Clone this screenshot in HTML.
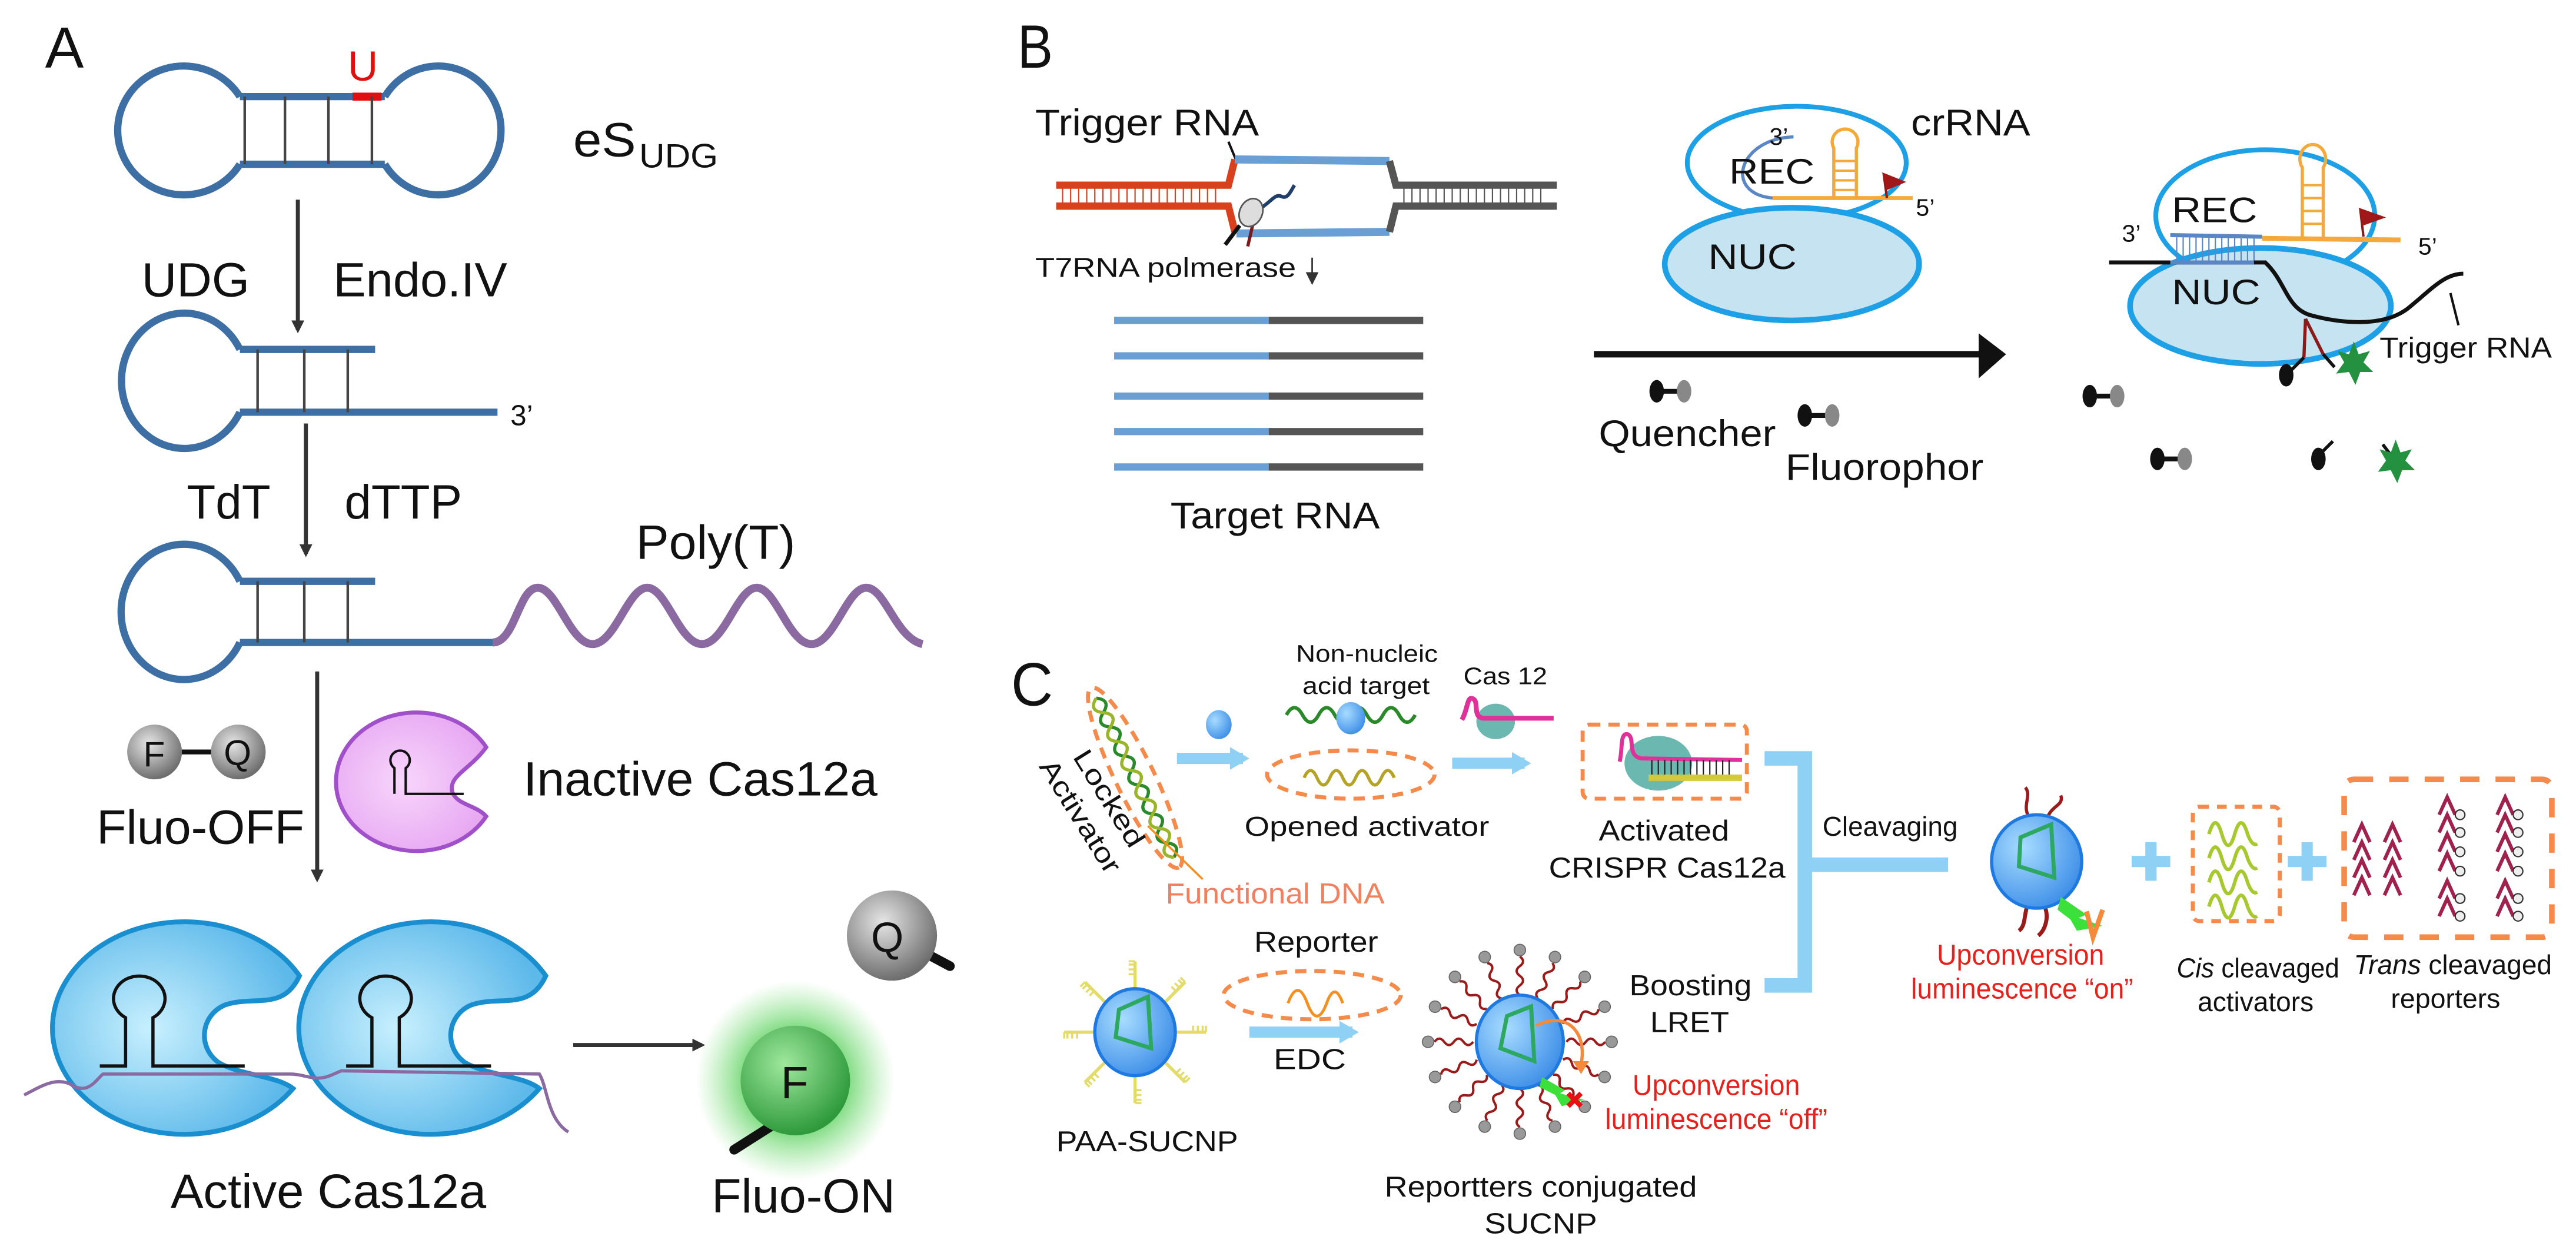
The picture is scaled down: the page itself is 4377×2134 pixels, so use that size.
<!DOCTYPE html>
<html><head><meta charset="utf-8"><style>
html,body{margin:0;padding:0;background:#fff;}
svg{display:block;}
text{font-family:"Liberation Sans",sans-serif;fill:#111;}
</style></head><body>
<svg width="4377" height="2134" viewBox="0 0 1600 780" preserveAspectRatio="none" xmlns="http://www.w3.org/2000/svg">
<defs>
<marker id="ah" markerWidth="8" markerHeight="8" refX="6" refY="4" orient="auto" markerUnits="userSpaceOnUse"><path d="M0,0 L8,4 L0,8 Z" fill="#333"/></marker>
<marker id="ahL" markerWidth="14" markerHeight="14" refX="8" refY="7" orient="auto" markerUnits="userSpaceOnUse"><path d="M0,0 L12,7 L0,14 Z" fill="#8fd0f5"/></marker>
<radialGradient id="gray" cx="40%" cy="35%" r="65%"><stop offset="0" stop-color="#e6e6e6"/><stop offset="1" stop-color="#6e6e6e"/></radialGradient>
<radialGradient id="pink" cx="45%" cy="50%" r="60%"><stop offset="0" stop-color="#f8d6fb"/><stop offset="1" stop-color="#e6a6f2"/></radialGradient>
<radialGradient id="blu" cx="40%" cy="50%" r="60%"><stop offset="0" stop-color="#c8f0fe"/><stop offset="1" stop-color="#5db9ea"/></radialGradient>
<radialGradient id="grn" cx="40%" cy="35%" r="65%"><stop offset="0" stop-color="#9ee89c"/><stop offset="1" stop-color="#2f9a3c"/></radialGradient>
<radialGradient id="glow" cx="50%" cy="50%" r="50%"><stop offset="0.45" stop-color="#4ccc50" stop-opacity="0.85"/><stop offset="1" stop-color="#7be07a" stop-opacity="0"/></radialGradient>
<radialGradient id="sph" cx="35%" cy="35%" r="70%"><stop offset="0" stop-color="#a7dcff"/><stop offset="1" stop-color="#3f8fe8"/></radialGradient>
<g id="qf"><line x1="0" y1="0" x2="16" y2="0" stroke="#111" stroke-width="3"/><ellipse cx="0" cy="0" rx="4.5" ry="7" fill="#111"/><ellipse cx="17" cy="0" rx="4.5" ry="7" fill="#888"/></g>
<g id="rsp"><path d="M29,0 q3,-4 6,0 t6,0 t6,0 t6,0" fill="none" stroke="#9b1b1b" stroke-width="1.5"/><circle cx="57" cy="0" r="3.6" fill="#999" stroke="#666" stroke-width="0.6"/></g>
<g id="ysp"><line x1="26" y1="0" x2="44" y2="0" stroke="#e3dc6a" stroke-width="2"/><path d="M36,0 v-4 M39,0 v-4 M42,0 v-4 M44,0 v-4" stroke="#e3dc6a" stroke-width="1.3"/></g>
<g id="hat"><path d="M-5,6 L0,-5 L5,6" fill="none" stroke="#a0204e" stroke-width="2.2"/></g>
<g id="hatc"><path d="M-5,6 L0,-5 L5,6" fill="none" stroke="#a0204e" stroke-width="2.2"/><circle cx="8" cy="6" r="3" fill="#eee" stroke="#333" stroke-width="0.8"/></g>
</defs>

<!-- ================= PANEL A ================= -->
<text x="28" y="42" font-size="36">A</text>
<!-- dumbbell -->
<g fill="none" stroke="#3d6fa5" stroke-width="4.5">
<path d="M149,60 A41,40 0 1 0 149,102"/>
<path d="M149,60 L239,60 M149,102 L239,102"/>
<path d="M239,60 A39,40 0 1 1 239,102"/>
</g>
<line x1="219" y1="60" x2="237" y2="60" stroke="#e01010" stroke-width="5"/>
<g stroke="#444" stroke-width="1.6"><line x1="152" y1="60" x2="152" y2="102"/><line x1="177" y1="60" x2="177" y2="102"/><line x1="204" y1="60" x2="204" y2="102"/><line x1="231" y1="60" x2="231" y2="102"/></g>
<text x="216" y="50" font-size="26" fill="#e01010" style="fill:#e01010">U</text>
<text x="356" y="97" font-size="30" textLength="39" lengthAdjust="spacingAndGlyphs">eS</text>
<text x="397" y="104" font-size="21" textLength="49" lengthAdjust="spacingAndGlyphs">UDG</text>

<line x1="185" y1="124" x2="185" y2="205" stroke="#333" stroke-width="2.5" marker-end="url(#ah)"/>
<text x="88" y="184" font-size="30" textLength="67" lengthAdjust="spacingAndGlyphs">UDG</text>
<text x="207" y="184" font-size="30" textLength="108" lengthAdjust="spacingAndGlyphs">Endo.IV</text>

<g fill="none" stroke="#3d6fa5" stroke-width="4.5">
<path d="M149,217 A39,42 0 1 0 149,256"/>
<path d="M149,217 L233,217 M149,256 L309,256"/>
</g>
<g stroke="#444" stroke-width="1.6"><line x1="160" y1="217" x2="160" y2="256"/><line x1="189" y1="217" x2="189" y2="256"/><line x1="216" y1="217" x2="216" y2="256"/></g>
<text x="317" y="264" font-size="18">3’</text>

<line x1="190" y1="263" x2="190" y2="344" stroke="#333" stroke-width="2.5" marker-end="url(#ah)"/>
<text x="116" y="322" font-size="30" textLength="52" lengthAdjust="spacingAndGlyphs">TdT</text>
<text x="214" y="322" font-size="30" textLength="73" lengthAdjust="spacingAndGlyphs">dTTP</text>

<g fill="none" stroke="#3d6fa5" stroke-width="4.5">
<path d="M149,361 A39,42 0 1 0 149,399"/>
<path d="M149,361 L233,361 M149,399 L309,399"/>
</g>
<g stroke="#444" stroke-width="1.6"><line x1="160" y1="361" x2="160" y2="399"/><line x1="189" y1="361" x2="189" y2="399"/><line x1="216" y1="361" x2="216" y2="399"/></g>
<path d="M306,399 C320,399 322,365 334,365 C346,365 354,400 368,400 C382,400 390,365 402,365 C414,365 422,400 436,400 C450,400 458,365 470,365 C482,365 490,400 504,400 C518,400 526,365 538,365 C550,365 556,396 573,400" fill="none" stroke="#8a6aa0" stroke-width="5"/>
<text x="395" y="347" font-size="30" textLength="99" lengthAdjust="spacingAndGlyphs">Poly(T)</text>

<line x1="197" y1="417" x2="197" y2="546" stroke="#333" stroke-width="2.5" marker-end="url(#ah)"/>
<line x1="110" y1="467" x2="132" y2="467" stroke="#111" stroke-width="3"/>
<circle cx="96" cy="467" r="17" fill="url(#gray)"/>
<circle cx="148" cy="467" r="17" fill="url(#gray)"/>
<text x="89" y="476" font-size="22">F</text>
<text x="139" y="475" font-size="22">Q</text>
<text x="60" y="524" font-size="30" textLength="129" lengthAdjust="spacingAndGlyphs">Fluo-OFF</text>

<path d="M302,464 A50,43 0 1 0 302,507 C296,500 284,500 281,492 C278,482 292,478 302,464 Z" fill="url(#pink)" stroke="#a050c8" stroke-width="2.5"/>
<path d="M245,493 L245,477 A6,6 0 1 1 252,477 L252,493 L288,493" fill="none" stroke="#111" stroke-width="1.5"/>
<text x="325" y="494" font-size="30" textLength="220" lengthAdjust="spacingAndGlyphs">Inactive Cas12a</text>

<!-- Active Cas12a -->
<g id="cas">
<path d="M186,606 A82,66 0 1 0 182,676 C172,668 150,668 136,660 C122,650 125,630 140,624 C158,618 176,628 186,606 Z" fill="url(#blu)" stroke="#1a8fd0" stroke-width="3"/>
<path d="M62,662 L78,662 L78,632 A16,14 0 1 1 95,632 L95,662 L152,662" fill="none" stroke="#111" stroke-width="2"/>
</g>
<use href="#cas" transform="translate(153,0)"/>
<path d="M15,680 C25,675 35,668 45,674 C55,680 60,670 64,667 L180,667 C190,667 195,672 205,668 L212,665 L335,667 C340,675 340,695 353,703" fill="none" stroke="#8a6aa0" stroke-width="2"/>
<text x="106" y="750" font-size="30" textLength="196" lengthAdjust="spacingAndGlyphs">Active Cas12a</text>

<line x1="356" y1="649" x2="436" y2="649" stroke="#333" stroke-width="2.5" marker-end="url(#ah)"/>
<circle cx="494" cy="671" r="62" fill="url(#glow)"/>
<line x1="478" y1="700" x2="456" y2="714" stroke="#111" stroke-width="6" stroke-linecap="round"/>
<circle cx="494" cy="671" r="34" fill="url(#grn)"/>
<text x="485" y="682" font-size="28">F</text>
<line x1="575" y1="592" x2="590" y2="600" stroke="#111" stroke-width="6" stroke-linecap="round"/>
<circle cx="554" cy="581" r="28" fill="url(#gray)"/>
<text x="541" y="591" font-size="26">Q</text>
<text x="442" y="753" font-size="30" textLength="114" lengthAdjust="spacingAndGlyphs">Fluo-ON</text>

<!-- ================= PANEL B ================= -->
<text x="632" y="42" font-size="38" textLength="22" lengthAdjust="spacingAndGlyphs">B</text>
<text x="643" y="84" font-size="23" textLength="139" lengthAdjust="spacingAndGlyphs">Trigger RNA</text>
<line x1="763" y1="88" x2="768" y2="100" stroke="#111" stroke-width="1.5"/>
<g stroke="#d9401e" stroke-width="0.8">
<line x1="660" y1="115" x2="660" y2="128"/><line x1="665" y1="115" x2="665" y2="128"/><line x1="670" y1="115" x2="670" y2="128"/><line x1="675" y1="115" x2="675" y2="128"/><line x1="680" y1="115" x2="680" y2="128"/><line x1="685" y1="115" x2="685" y2="128"/><line x1="690" y1="115" x2="690" y2="128"/><line x1="695" y1="115" x2="695" y2="128"/><line x1="700" y1="115" x2="700" y2="128"/><line x1="705" y1="115" x2="705" y2="128"/><line x1="710" y1="115" x2="710" y2="128"/><line x1="715" y1="115" x2="715" y2="128"/><line x1="720" y1="115" x2="720" y2="128"/><line x1="725" y1="115" x2="725" y2="128"/><line x1="730" y1="115" x2="730" y2="128"/><line x1="735" y1="115" x2="735" y2="128"/><line x1="740" y1="115" x2="740" y2="128"/><line x1="745" y1="115" x2="745" y2="128"/><line x1="750" y1="115" x2="750" y2="128"/><line x1="755" y1="115" x2="755" y2="128"/>
</g>
<g stroke="#555" stroke-width="0.8">
<line x1="872" y1="115" x2="872" y2="128"/><line x1="877" y1="115" x2="877" y2="128"/><line x1="882" y1="115" x2="882" y2="128"/><line x1="887" y1="115" x2="887" y2="128"/><line x1="892" y1="115" x2="892" y2="128"/><line x1="897" y1="115" x2="897" y2="128"/><line x1="902" y1="115" x2="902" y2="128"/><line x1="907" y1="115" x2="907" y2="128"/><line x1="912" y1="115" x2="912" y2="128"/><line x1="917" y1="115" x2="917" y2="128"/><line x1="922" y1="115" x2="922" y2="128"/><line x1="927" y1="115" x2="927" y2="128"/><line x1="932" y1="115" x2="932" y2="128"/><line x1="937" y1="115" x2="937" y2="128"/><line x1="942" y1="115" x2="942" y2="128"/><line x1="947" y1="115" x2="947" y2="128"/><line x1="952" y1="115" x2="952" y2="128"/><line x1="957" y1="115" x2="957" y2="128"/>
</g>
<path d="M656,115 L763,115 L767,99 M656,128 L763,128 L767,144" fill="none" stroke="#d9401e" stroke-width="4.5"/>
<path d="M767,99 L863,100 M768,145 L863,144" fill="none" stroke="#6a9fd6" stroke-width="5"/>
<path d="M863,100 L867,115 L967,115 M863,144 L867,128 L967,128" fill="none" stroke="#555" stroke-width="4.5"/>
<path d="M770,140 L761,152" stroke="#111" stroke-width="2.5"/>
<path d="M778,140 L775,153" stroke="#7a1a1a" stroke-width="2"/>
<path d="M782,130 C790,125 792,120 796,122 C800,124 802,118 804,115" fill="none" stroke="#1f3f6a" stroke-width="2.2"/>
<ellipse cx="777" cy="132" rx="7" ry="9" fill="#ddd" stroke="#555" stroke-width="1" transform="rotate(25 777 132)"/>
<text x="643" y="172" font-size="17" textLength="162" lengthAdjust="spacingAndGlyphs">T7RNA polmerase</text>
<line x1="815" y1="160" x2="815" y2="175" stroke="#333" stroke-width="1" marker-end="url(#ah)"/>

<g stroke-width="4.5">
<line x1="692" y1="199" x2="788" y2="199" stroke="#6a9fd6"/><line x1="788" y1="199" x2="884" y2="199" stroke="#555"/>
<line x1="692" y1="221" x2="788" y2="221" stroke="#6a9fd6"/><line x1="788" y1="221" x2="884" y2="221" stroke="#555"/>
<line x1="692" y1="246" x2="788" y2="246" stroke="#6a9fd6"/><line x1="788" y1="246" x2="884" y2="246" stroke="#555"/>
<line x1="692" y1="268" x2="788" y2="268" stroke="#6a9fd6"/><line x1="788" y1="268" x2="884" y2="268" stroke="#555"/>
<line x1="692" y1="290" x2="788" y2="290" stroke="#6a9fd6"/><line x1="788" y1="290" x2="884" y2="290" stroke="#555"/>
</g>
<text x="727" y="328" font-size="23" textLength="130" lengthAdjust="spacingAndGlyphs">Target RNA</text>

<!-- crRNA complex -->
<ellipse cx="1116" cy="101" rx="68" ry="35" fill="#fff" stroke="#1ea0e6" stroke-width="3"/>
<ellipse cx="1113" cy="164" rx="79" ry="35" fill="#c5e3f1" stroke="#1ea0e6" stroke-width="3.5"/>
<path d="M1114,85 C1080,86 1070,120 1101,123" fill="none" stroke="#5b86c4" stroke-width="2"/>
<line x1="1101" y1="123" x2="1188" y2="123" stroke="#f4a93a" stroke-width="2.5"/>
<path d="M1139,123 L1139,92 A8,8 0 1 1 1153,92 L1153,123" fill="none" stroke="#f4a93a" stroke-width="2"/>
<g stroke="#f4a93a" stroke-width="1.5"><line x1="1139" y1="100" x2="1153" y2="100"/><line x1="1139" y1="106" x2="1153" y2="106"/><line x1="1139" y1="112" x2="1153" y2="112"/><line x1="1139" y1="118" x2="1153" y2="118"/></g>
<line x1="1170" y1="108" x2="1172" y2="123" stroke="#8b1a1a" stroke-width="1.5"/>
<path d="M1169,107 L1184,113 L1172,118 Z" fill="#a01818"/>
<text x="1187" y="84" font-size="23" textLength="74" lengthAdjust="spacingAndGlyphs">crRNA</text>
<text x="1074" y="114" font-size="22" textLength="53" lengthAdjust="spacingAndGlyphs">REC</text>
<text x="1099" y="90" font-size="15">3’</text>
<text x="1190" y="134" font-size="15">5’</text>
<text x="1061" y="167" font-size="22" textLength="55" lengthAdjust="spacingAndGlyphs">NUC</text>

<line x1="990" y1="220" x2="1232" y2="220" stroke="#111" stroke-width="4"/>
<path d="M1229,207 L1246,220 L1229,235 Z" fill="#111"/>
<use href="#qf" x="1029" y="243"/>
<use href="#qf" x="1121" y="258"/>
<text x="993" y="277" font-size="23" textLength="110" lengthAdjust="spacingAndGlyphs">Quencher</text>
<text x="1109" y="298" font-size="23" textLength="123" lengthAdjust="spacingAndGlyphs">Fluorophor</text>

<!-- right complex -->
<ellipse cx="1407" cy="134" rx="68" ry="41" fill="#fff" stroke="#1ea0e6" stroke-width="3"/>
<ellipse cx="1404" cy="190" rx="81" ry="36" fill="#c5e3f1" stroke="#1ea0e6" stroke-width="3.5"/>
<g stroke="#5b86c4" stroke-width="0.8">
<line x1="1352" y1="147" x2="1352" y2="163"/><line x1="1356" y1="147" x2="1356" y2="163"/><line x1="1360" y1="147" x2="1360" y2="163"/><line x1="1364" y1="147" x2="1364" y2="163"/><line x1="1368" y1="147" x2="1368" y2="163"/><line x1="1372" y1="147" x2="1372" y2="163"/><line x1="1376" y1="147" x2="1376" y2="163"/><line x1="1380" y1="147" x2="1380" y2="163"/><line x1="1384" y1="147" x2="1384" y2="163"/><line x1="1388" y1="147" x2="1388" y2="163"/><line x1="1392" y1="147" x2="1392" y2="163"/><line x1="1396" y1="147" x2="1396" y2="163"/><line x1="1400" y1="147" x2="1400" y2="163"/>
</g>
<line x1="1348" y1="146" x2="1405" y2="147" stroke="#5b86c4" stroke-width="2.5"/>
<line x1="1405" y1="148" x2="1491" y2="149" stroke="#f4a93a" stroke-width="3"/>
<path d="M1430,148 L1430,104 A8,9 0 1 1 1443,104 L1443,148" fill="none" stroke="#f4a93a" stroke-width="2"/>
<g stroke="#f4a93a" stroke-width="1.5"><line x1="1430" y1="115" x2="1443" y2="115"/><line x1="1430" y1="123" x2="1443" y2="123"/><line x1="1430" y1="131" x2="1443" y2="131"/><line x1="1430" y1="139" x2="1443" y2="139"/></g>
<line x1="1466" y1="130" x2="1468" y2="147" stroke="#8b1a1a" stroke-width="1.5"/>
<path d="M1465,129 L1482,135 L1468,140 Z" fill="#a01818"/>
<path d="M1310,163 L1407,163 C1420,175 1420,192 1436,196 C1455,201 1480,203 1495,192 C1510,180 1518,170 1530,170" fill="none" stroke="#111" stroke-width="2.5"/>
<line x1="1348" y1="163" x2="1400" y2="163" stroke="#5b86c4" stroke-width="2.5"/>
<line x1="1522" y1="182" x2="1527" y2="202" stroke="#111" stroke-width="1.5"/>
<path d="M1432,198 L1431,222 M1432,198 L1443,220" fill="none" stroke="#8b1a1a" stroke-width="2"/>
<path d="M1431,222 L1423,230" stroke="#111" stroke-width="2"/>
<ellipse cx="1420" cy="233" rx="4.5" ry="7" fill="#111"/>
<path d="M1443,220 L1450,228" stroke="#111" stroke-width="2"/>
<polygon points="1462,212 1465,220 1472,218 1468,225 1474,231 1466,231 1463,239 1459,231 1451,232 1456,225 1452,218 1459,220" fill="#23913f"/>
<text x="1349" y="138" font-size="22" textLength="53" lengthAdjust="spacingAndGlyphs">REC</text>
<text x="1349" y="189" font-size="22" textLength="55" lengthAdjust="spacingAndGlyphs">NUC</text>
<text x="1318" y="150" font-size="15">3’</text>
<text x="1502" y="158" font-size="15">5’</text>
<text x="1478" y="222" font-size="18" textLength="107" lengthAdjust="spacingAndGlyphs">Trigger RNA</text>
<use href="#qf" x="1298" y="246"/>
<use href="#qf" x="1340" y="285"/>
<ellipse cx="1440" cy="285" rx="4.5" ry="7" fill="#111"/>
<line x1="1441" y1="282" x2="1449" y2="274" stroke="#111" stroke-width="2"/>
<line x1="1480" y1="276" x2="1486" y2="284" stroke="#111" stroke-width="2"/>
<polygon points="1488,273 1491,281 1498,279 1494,286 1500,292 1492,292 1489,300 1485,292 1477,293 1482,286 1478,279 1485,281" fill="#23913f"/>

<!-- ================= PANEL C ================= -->
<text x="628" y="438" font-size="38" textLength="26" lengthAdjust="spacingAndGlyphs">C</text>
<g transform="rotate(64 705 483)">
<ellipse cx="705" cy="483" rx="62" ry="12" fill="none" stroke="#f58a4b" stroke-width="2.5" stroke-dasharray="7,5"/>
<path d="M650,483 q5,-8 10,0 t10,0 t10,0 t10,0 t10,0 t10,0 t10,0 t10,0 t10,0 t10,0 t10,0" fill="none" stroke="#2a8a2a" stroke-width="2"/>
<path d="M650,483 q5,8 10,0 t10,0 t10,0 t10,0 t10,0 t10,0 t10,0 t10,0 t10,0 t10,0 t10,0" fill="none" stroke="#9ab52a" stroke-width="2"/>
</g>
<line x1="713" y1="513" x2="747" y2="546" stroke="#f5901e" stroke-width="1.3"/>
<text x="666" y="470" font-size="17" transform="rotate(58 666 470)" textLength="68" lengthAdjust="spacingAndGlyphs">Locked</text>
<text x="645" y="476" font-size="17" transform="rotate(58 645 476)" textLength="80" lengthAdjust="spacingAndGlyphs">Activator</text>
<text x="724" y="561" font-size="18" fill="#f08060" style="fill:#f08060" textLength="136" lengthAdjust="spacingAndGlyphs">Functional DNA</text>

<ellipse cx="757" cy="450" rx="8" ry="9" fill="url(#sph)"/>
<line x1="731" y1="471" x2="772" y2="471" stroke="#8fd0f5" stroke-width="7" marker-end="url(#ahL)"/>
<text x="805" y="411" font-size="15" textLength="88" lengthAdjust="spacingAndGlyphs">Non-nucleic</text>
<text x="809" y="431" font-size="15" textLength="79" lengthAdjust="spacingAndGlyphs">acid target</text>
<path d="M799,444 q5,-9 10,0 t10,0 t10,0 t10,0 t10,0 t10,0 t10,0 t10,0" fill="none" stroke="#2a8a2a" stroke-width="2.2"/>
<ellipse cx="839" cy="446" rx="9" ry="10" fill="url(#sph)"/>
<ellipse cx="839" cy="481" rx="52" ry="15" fill="none" stroke="#f58a4b" stroke-width="2.5" stroke-dasharray="7,5"/>
<path d="M810,483 q4,-9 8,0 t8,0 t8,0 t8,0 t8,0 t8,0 t8,0" fill="none" stroke="#b5a326" stroke-width="2"/>
<text x="773" y="519" font-size="17" textLength="152" lengthAdjust="spacingAndGlyphs">Opened activator</text>
<text x="909" y="425" font-size="15" textLength="52" lengthAdjust="spacingAndGlyphs">Cas 12</text>
<ellipse cx="929" cy="448" rx="12" ry="11" fill="#6bb8b0"/>
<path d="M908,447 C912,440 911,432 915,434 C919,436 914,446 922,446 L965,446" fill="none" stroke="#e0309a" stroke-width="3"/>
<line x1="902" y1="474" x2="947" y2="474" stroke="#8fd0f5" stroke-width="7" marker-end="url(#ahL)"/>

<rect x="983" y="450" width="102" height="46" rx="4" fill="none" stroke="#f58a4b" stroke-width="2.5" stroke-dasharray="7,5"/>
<ellipse cx="1030" cy="474" rx="21" ry="17" fill="#6bb8b0"/>
<path d="M1006,473 C1008,465 1006,455 1011,456 C1016,458 1010,470 1020,471 L1082,472" fill="none" stroke="#e0309a" stroke-width="2.5"/>
<g stroke="#222" stroke-width="0.8"><line x1="1026" y1="472" x2="1026" y2="482"/><line x1="1030" y1="472" x2="1030" y2="482"/><line x1="1034" y1="472" x2="1034" y2="482"/><line x1="1038" y1="472" x2="1038" y2="482"/><line x1="1042" y1="472" x2="1042" y2="482"/><line x1="1046" y1="472" x2="1046" y2="482"/><line x1="1050" y1="472" x2="1050" y2="482"/><line x1="1054" y1="472" x2="1054" y2="482"/><line x1="1058" y1="472" x2="1058" y2="482"/><line x1="1062" y1="472" x2="1062" y2="482"/><line x1="1066" y1="472" x2="1066" y2="482"/><line x1="1070" y1="472" x2="1070" y2="482"/><line x1="1074" y1="472" x2="1074" y2="482"/></g>
<line x1="1024" y1="483" x2="1082" y2="483" stroke="#d4c93a" stroke-width="4"/>
<text x="993" y="522" font-size="18" textLength="81" lengthAdjust="spacingAndGlyphs">Activated</text>
<text x="962" y="545" font-size="18" textLength="147" lengthAdjust="spacingAndGlyphs">CRISPR Cas12a</text>

<path d="M1096,471 L1121,471 L1121,612 L1096,612 M1121,537 L1210,537" fill="none" stroke="#8fd0f5" stroke-width="9"/>
<text x="1132" y="519" font-size="17" textLength="84" lengthAdjust="spacingAndGlyphs">Cleavaging</text>
<text x="1012" y="618" font-size="18" textLength="76" lengthAdjust="spacingAndGlyphs">Boosting</text>
<text x="1025" y="641" font-size="18" textLength="49" lengthAdjust="spacingAndGlyphs">LRET</text>

<!-- UCNP on -->
<path d="M1260,507 C1256,500 1262,494 1258,489 M1272,507 C1275,500 1282,500 1280,494" fill="none" stroke="#9b1b1b" stroke-width="2"/>
<path d="M1259,563 C1257,570 1258,575 1254,578 M1270,563 C1273,570 1270,578 1266,581" fill="none" stroke="#9b1b1b" stroke-width="2.5"/>
<ellipse cx="1265" cy="535" rx="28" ry="29" fill="url(#sph)" stroke="#1e7ae0" stroke-width="2"/>
<path d="M1255,520 L1274,512 L1276,545 L1254,538 Z" fill="none" stroke="#2ca860" stroke-width="2.5"/>
<path d="M1280,557 L1296,568 L1291,570 L1306,575 L1290,578 L1286,571 L1278,565 Z" fill="#3ce03a"/>
<path d="M1296,566 L1300,582 L1306,565" fill="none" stroke="#f58a3a" stroke-width="3"/>
<text x="1203" y="599" font-size="18" fill="#e8201c" style="fill:#e8201c" textLength="104" lengthAdjust="spacingAndGlyphs">Upconversion</text>
<text x="1187" y="620" font-size="18" fill="#e8201c" style="fill:#e8201c" textLength="138" lengthAdjust="spacingAndGlyphs">luminescence “on”</text>

<path d="M1336,523 L1336,547 M1324,535 L1348,535" stroke="#8fd0f5" stroke-width="7"/>
<path d="M1433,523 L1433,547 M1421,535 L1445,535" stroke="#8fd0f5" stroke-width="7"/>

<rect x="1362" y="501" width="54" height="71" rx="4" fill="none" stroke="#f58a4b" stroke-width="2.5" stroke-dasharray="6,5"/>
<g fill="none" stroke="#a8c830" stroke-width="2.2">
<path d="M1372,518 q4,-14 8,0 q4,14 8,0 q4,-14 8,0 q3,8 6,6"/>
<path d="M1372,533 q4,-14 8,0 q4,14 8,0 q4,-14 8,0 q3,8 6,6"/>
<path d="M1372,548 q4,-14 8,0 q4,14 8,0 q4,-14 8,0 q3,8 6,6"/>
<path d="M1372,563 q4,-14 8,0 q4,14 8,0 q4,-14 8,0 q3,8 6,6"/>
</g>
<text x="1352" y="607" font-size="17" textLength="101" lengthAdjust="spacingAndGlyphs"><tspan font-style="italic">Cis</tspan> cleavaged</text>
<text x="1365" y="628" font-size="17" textLength="72" lengthAdjust="spacingAndGlyphs">activators</text>

<rect x="1456" y="484" width="129" height="98" rx="6" fill="none" stroke="#f58a4b" stroke-width="3.5" stroke-dasharray="12,10"/>
<use href="#hat" x="1467" y="517"/><use href="#hat" x="1486" y="517"/>
<use href="#hat" x="1467" y="528"/><use href="#hat" x="1486" y="528"/>
<use href="#hat" x="1467" y="539"/><use href="#hat" x="1486" y="539"/>
<use href="#hat" x="1467" y="550"/><use href="#hat" x="1486" y="550"/>
<use href="#hatc" x="1520" y="500"/><use href="#hatc" x="1556" y="500"/>
<use href="#hatc" x="1520" y="511"/><use href="#hatc" x="1556" y="511"/>
<use href="#hatc" x="1520" y="523"/><use href="#hatc" x="1556" y="523"/>
<use href="#hatc" x="1520" y="535"/><use href="#hatc" x="1556" y="535"/>
<use href="#hatc" x="1520" y="552"/><use href="#hatc" x="1556" y="552"/>
<use href="#hatc" x="1520" y="563"/><use href="#hatc" x="1556" y="563"/>
<text x="1462" y="605" font-size="17" textLength="123" lengthAdjust="spacingAndGlyphs"><tspan font-style="italic">Trans</tspan> cleavaged</text>
<text x="1485" y="626" font-size="17" textLength="68" lengthAdjust="spacingAndGlyphs">reporters</text>

<!-- PAA-SUCNP -->
<g transform="translate(705,641)">
<use href="#ysp" transform="rotate(-90)"/><use href="#ysp" transform="rotate(-45)"/><use href="#ysp" transform="rotate(0)"/><use href="#ysp" transform="rotate(45)"/><use href="#ysp" transform="rotate(90)"/><use href="#ysp" transform="rotate(135)"/><use href="#ysp" transform="rotate(180)"/><use href="#ysp" transform="rotate(-135)"/>
<ellipse cx="0" cy="0" rx="25" ry="27" fill="url(#sph)" stroke="#1e7ae0" stroke-width="2"/>
<path d="M-10,-14 L8,-22 L10,10 L-12,3 Z" fill="none" stroke="#2ca860" stroke-width="2.5"/>
</g>
<text x="656" y="715" font-size="18" textLength="113" lengthAdjust="spacingAndGlyphs">PAA-SUCNP</text>
<text x="779" y="591" font-size="18" textLength="77" lengthAdjust="spacingAndGlyphs">Reporter</text>
<ellipse cx="815" cy="618" rx="55" ry="15" fill="none" stroke="#f58a4b" stroke-width="2.5" stroke-dasharray="7,5"/>
<path d="M800,623 q6,-16 12,0 q6,16 12,0 q5,-14 10,0" fill="none" stroke="#f5901e" stroke-width="1.8"/>
<line x1="776" y1="641" x2="840" y2="641" stroke="#8fd0f5" stroke-width="7" marker-end="url(#ahL)"/>
<text x="791" y="664" font-size="18" textLength="45" lengthAdjust="spacingAndGlyphs">EDC</text>

<!-- reporter-conjugated SUCNP -->
<g transform="translate(944,647)">
<use href="#rsp" transform="rotate(0)"/><use href="#rsp" transform="rotate(22.5)"/><use href="#rsp" transform="rotate(45)"/><use href="#rsp" transform="rotate(67.5)"/><use href="#rsp" transform="rotate(90)"/><use href="#rsp" transform="rotate(112.5)"/><use href="#rsp" transform="rotate(135)"/><use href="#rsp" transform="rotate(157.5)"/><use href="#rsp" transform="rotate(180)"/><use href="#rsp" transform="rotate(202.5)"/><use href="#rsp" transform="rotate(225)"/><use href="#rsp" transform="rotate(247.5)"/><use href="#rsp" transform="rotate(270)"/><use href="#rsp" transform="rotate(292.5)"/><use href="#rsp" transform="rotate(315)"/><use href="#rsp" transform="rotate(337.5)"/>
<ellipse cx="0" cy="0" rx="27" ry="29" fill="url(#sph)" stroke="#1e7ae0" stroke-width="2"/>
<path d="M-8,-16 L7,-22 L9,12 L-12,4 Z" fill="none" stroke="#2ca860" stroke-width="2.5"/>
<path d="M10,-10 C30,-20 42,-5 38,14" fill="none" stroke="#f58a3a" stroke-width="2"/>
<path d="M33,12 L38,20 L43,12 Z" fill="#f58a3a"/>
<path d="M14,22 L28,30 L25,32 L40,36 L26,40 L22,33 L12,28 Z" fill="#3ce03a"/>
<path d="M30,32 L38,40 M38,32 L30,40" stroke="#e81010" stroke-width="3"/>
</g>
<text x="1014" y="680" font-size="18" fill="#e8201c" style="fill:#e8201c" textLength="104" lengthAdjust="spacingAndGlyphs">Upconversion</text>
<text x="997" y="701" font-size="18" fill="#e8201c" style="fill:#e8201c" textLength="138" lengthAdjust="spacingAndGlyphs">luminescence “off”</text>
<text x="860" y="743" font-size="18" textLength="194" lengthAdjust="spacingAndGlyphs">Reportters conjugated</text>
<text x="922" y="766" font-size="18" textLength="70" lengthAdjust="spacingAndGlyphs">SUCNP</text>
</svg>
</body></html>
